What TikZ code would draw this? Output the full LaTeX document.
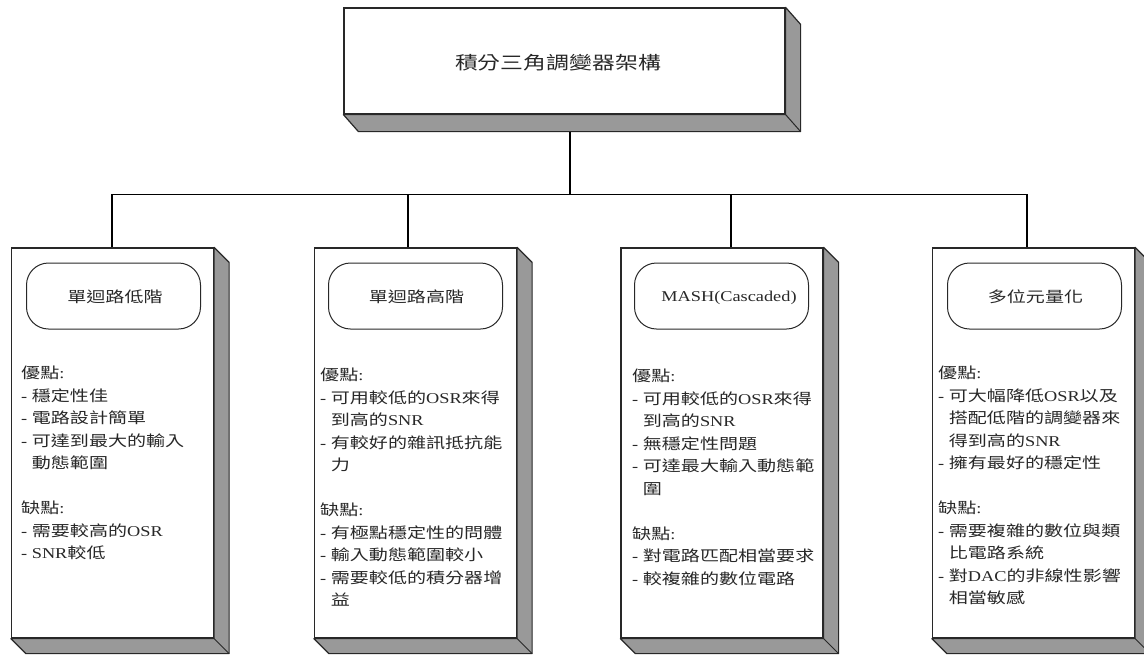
\documentclass[tikz,border=0pt]{standalone}
\usepackage{fontspec}
\setmainfont[FakeStretch=1.22]{Liberation Serif}
\newfontfamily\cjk[FakeStretch=1.27]{Noto Sans CJK TC}
\newcommand\zh[1]{{\cjk #1}}
\newcommand\bodyfont{\fontsize{15}{22.5}\selectfont}
\newcommand\titlefont{\fontsize{18}{22}\selectfont}
\usetikzlibrary{calc}
\definecolor{shade}{RGB}{153,153,153}
\definecolor{ink}{RGB}{40,40,40}
\newcommand\extrude[3]{%
  \path[depth] (#1.north east) -- ($(#1.north east)+(#2,#3)$) -- ($(#1.south east)+(#2,#3)$)
     -- ($(#1.south west)+(#2,#3)$) -- (#1.south west) -- (#1.south east) -- cycle;
  \draw[ink, line width=1pt] (#1.south east) -- ($(#1.south east)+(#2,#3)$);
}
\begin{document}
\begin{tikzpicture}[x=1pt,y=-1pt,
  panel/.style={draw=ink, line width=1.2pt, fill=white, minimum width=202pt, minimum height=390pt, inner sep=0pt},
  topstyle/.style={draw=ink, line width=1.2pt, fill=white, minimum width=441pt, minimum height=106pt, inner sep=0pt},
  pill/.style={draw=ink, line width=1pt, rounded corners=22pt, minimum width=174pt, minimum height=66pt, inner sep=0pt},
  lbl/.style={inner sep=0pt, font=\bodyfont, text=ink},
  body/.style={anchor=north west, align=left, inner sep=0pt, font=\bodyfont, text=ink},
  depth/.style={fill=shade, draw=ink, line width=1.2pt, line join=round},
  conn/.style={draw=black, line width=1.6pt}]
\useasboundingbox (0,0) rectangle (1144,654);
\fill[white] (0,0) rectangle (1144,654);

% top box
\node[topstyle] (topbox) at (564.5,61) {};
\extrude{topbox}{15}{17}
\node[topstyle] at (topbox.center) {};
\node[lbl, font=\titlefont] (ttl) at (558,63) {\zh{積分三角調變器架構}};

% panels
\node[panel] (b1) at (112.5,443) {};
\node[panel] (b2) at (415.5,443) {};
\node[panel] (b3) at (722,443) {};
\node[panel] (b4) at (1033.5,443) {};
\extrude{b1}{15}{15}
\extrude{b2}{15}{15}
\extrude{b3}{15}{15}
\extrude{b4}{15}{15}
\node[panel] at (b1.center) {};
\node[panel] at (b2.center) {};
\node[panel] at (b3.center) {};
\node[panel] at (b4.center) {};

% pills
\node[pill] (p1) at (113.5,296) {};
\node[pill] (p2) at (415.5,296) {};
\node[pill] (p3) at (721.5,296) {};
\node[pill] (p4) at (1034.5,296) {};
\node[lbl] (l1) at (115,297) {\zh{單迴路低階}};
\node[lbl] (l2) at (416.5,297) {\zh{單迴路高階}};
\node[lbl] (l3) at (729,298) {MASH(Cascaded)};
\node[lbl] (l4) at (1035.5,297) {\zh{多位元量化}};

% connectors
\coordinate (topout) at ($(topbox.south)+(5.5,17)$);
\coordinate (c1) at ($(b1.north)+(-0.5,0)$);
\coordinate (c2) at ($(b2.north)+(-7.5,0)$);
\coordinate (c3) at ($(b3.north)+(9,0)$);
\coordinate (c4) at ($(b4.north)+(-6.5,0)$);
\draw[conn] (topout) -- (topout |- 0,195);
\draw[conn] (c1) -- ++(0,-53) -| (c4);
\draw[conn] (c2) -- ++(0,-53);
\draw[conn] (c3) -- ++(0,-53);

% body texts
\node[body] (t1) at (21,366) {\zh{優點}:\\
- \zh{穩定性佳}\\
- \zh{電路設計簡單}\\
- \zh{可達到最大的輸入}\\
\phantom{- }\zh{動態範圍}\\[22.5pt]
\zh{缺點}:\\
- \zh{需要較高的}OSR\\
- SNR\zh{較低}};

\node[body] (t2) at (320,368) {\zh{優點}:\\
- \zh{可用較低的}OSR\zh{來得}\\
\phantom{- }\zh{到高的}SNR\\
- \zh{有較好的雜訊抵抗能}\\
\phantom{- }\zh{力}\\[22.5pt]
\zh{缺點}:\\
- \zh{有極點穩定性的問體}\\
- \zh{輸入動態範圍較小}\\
- \zh{需要較低的積分器增}\\
\phantom{- }\zh{益}};

\node[body] (t3) at (632,369) {\zh{優點}:\\
- \zh{可用較低的}OSR\zh{來得}\\
\phantom{- }\zh{到高的}SNR\\
- \zh{無穩定性問題}\\
- \zh{可達最大輸入動態範}\\
\phantom{- }\zh{圍}\\[22.5pt]
\zh{缺點}:\\
- \zh{對電路匹配相當要求}\\
- \zh{較複雜的數位電路}};

\node[body] (t4) at (938,366) {\zh{優點}:\\
- \zh{可大幅降低}OSR\zh{以及}\\
\phantom{- }\zh{搭配低階的調變器來}\\
\phantom{- }\zh{得到高的}SNR\\
- \zh{擁有最好的穩定性}\\[22.5pt]
\zh{缺點}:\\
- \zh{需要複雜的數位與類}\\
\phantom{- }\zh{比電路系統}\\
- \zh{對}DAC\zh{的非線性影響}\\
\phantom{- }\zh{相當敏感}};
\end{tikzpicture}
\end{document}
